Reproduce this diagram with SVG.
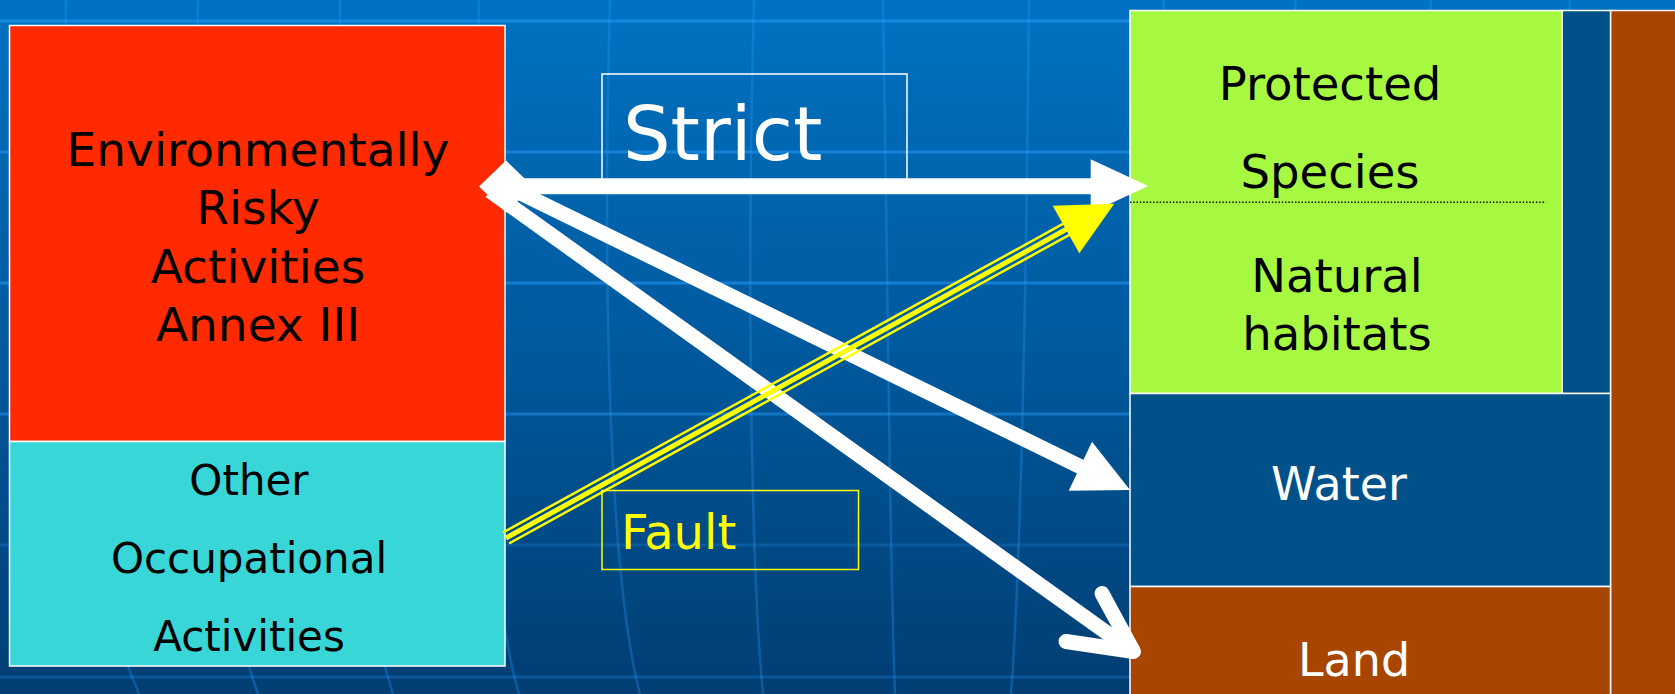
<svg xmlns="http://www.w3.org/2000/svg" width="1675" height="694" viewBox="0 0 1675 694">
  <defs>
    <linearGradient id="bg" x1="0" y1="0" x2="0" y2="1">
      <stop offset="0" stop-color="#0072c2"/>
      <stop offset="0.5" stop-color="#00599d"/>
      <stop offset="1" stop-color="#003e73"/>
    </linearGradient>
    <style>
      .box { stroke: #ffffff; stroke-width: 1.5; }
      .lbl { font-family: "DejaVu Sans", Verdana, sans-serif; text-anchor: middle; }
      .dark { fill: #000000; }
      .light { fill: #ffffff; }
      .hgrid { stroke: #2a9cff; stroke-width: 3; fill: none; }
      .vgrid { stroke: #2a9cff; stroke-width: 2.5; fill: none; opacity: 0.3; }
      .wire { stroke: #ffffff; fill: none; }
      .fault-line { stroke: #ffff00; fill: none; }
    </style>
  </defs>

  <!-- backdrop with globe-style grid -->
  <rect x="0" y="0" width="1675" height="694" fill="url(#bg)"/>
  <g id="grid">
    <line class="hgrid" x1="0" y1="21" x2="1675" y2="21" opacity="0.55" stroke-width="4"/>
    <line class="hgrid" x1="0" y1="152" x2="1675" y2="152" opacity="0.5"/>
    <line class="hgrid" x1="0" y1="283" x2="1675" y2="283" opacity="0.5"/>
    <line class="hgrid" x1="0" y1="414" x2="1675" y2="414" opacity="0.45"/>
    <line class="hgrid" x1="0" y1="545" x2="1675" y2="545" opacity="0.2"/>
    <line class="hgrid" x1="0" y1="677" x2="1675" y2="677" opacity="0.25"/>
    <path class="vgrid" d="M66,0 C60,300 80,560 139,694"/>
    <path class="vgrid" d="M198,0 C194,300 210,560 258,694"/>
    <path class="vgrid" d="M340,0 C336,300 350,560 393,694"/>
    <path class="vgrid" d="M479,0 C474,300 486,580 519,694"/>
    <path class="vgrid" d="M610,0 C602,300 610,580 640,694"/>
    <path class="vgrid" d="M754,0 C746,300 752,580 763,694"/>
    <path class="vgrid" d="M883,0 C888,300 890,580 895,694"/>
    <path class="vgrid" d="M1029,0 C1026,300 1020,580 1011,694"/>
    <path class="vgrid" d="M1164,0 L1160,40"/>
    <path class="vgrid" d="M1296,0 L1292,40"/>
    <path class="vgrid" d="M1431,0 L1427,40"/>
    <path class="vgrid" d="M1570,0 L1566,40"/>
  </g>

  <!-- source side -->
  <g id="risky-activities">
    <rect class="box" x="9.5" y="25.5" width="495.5" height="416" fill="#ff2a00"/>
    <text class="lbl dark" font-size="47" x="258" y="166">Environmentally</text>
    <text class="lbl dark" font-size="47" x="258" y="224">Risky</text>
    <text class="lbl dark" font-size="47" x="258" y="283">Activities</text>
    <text class="lbl dark" font-size="47" x="258" y="341">Annex III</text>
  </g>
  <g id="other-activities">
    <rect class="box" x="9.5" y="441.5" width="495.5" height="224.5" fill="#38d6d6"/>
    <text class="lbl dark" font-size="42" x="249" y="495">Other</text>
    <text class="lbl dark" font-size="42" x="249" y="573">Occupational</text>
    <text class="lbl dark" font-size="42" x="249" y="651">Activities</text>
  </g>

  <!-- damage side -->
  <g id="brown-column">
    <rect class="box" x="1610.5" y="10.5" width="70" height="690" fill="#a84500"/>
  </g>
  <g id="blue-strip">
    <rect class="box" x="1562" y="10.5" width="48.5" height="383" fill="#005089"/>
  </g>
  <g id="biodiversity">
    <rect class="box" x="1130" y="10.5" width="432" height="383" fill="#a6f840"/>
    <line x1="1130" y1="202.3" x2="1546" y2="202.3" stroke="#000000" stroke-width="1.4" stroke-dasharray="1.4 1.9"/>
    <text class="lbl dark" font-size="46.5" x="1330" y="100">Protected</text>
    <text class="lbl dark" font-size="46.5" x="1330" y="188">Species</text>
    <text class="lbl dark" font-size="46.5" x="1337" y="292">Natural</text>
    <text class="lbl dark" font-size="46.5" x="1337" y="350">habitats</text>
  </g>
  <g id="water">
    <rect class="box" x="1130" y="393.5" width="480.5" height="193" fill="#005089"/>
    <text class="lbl light" font-size="46" x="1339" y="500">Water</text>
  </g>
  <g id="land">
    <rect class="box" x="1130" y="586.5" width="480.5" height="120" fill="#a84500"/>
    <text class="lbl light" font-size="46" x="1354" y="676">Land</text>
  </g>

  <!-- liability regimes -->
  <g id="strict">
    <rect x="602" y="74" width="305" height="108" fill="none" stroke="#ffffff" stroke-width="1.5"/>
    <text font-family="'DejaVu Sans', Verdana, sans-serif" font-size="75" fill="#ffffff" x="623" y="160">Strict</text>
  </g>
  <g id="fault">
    <rect x="602" y="490.5" width="256.5" height="79" fill="none" stroke="#ffff00" stroke-width="1.5"/>
    <text font-family="'DejaVu Sans', Verdana, sans-serif" font-size="48" fill="#ffff00" x="621" y="549">Fault</text>
  </g>

  <g id="connectors">
    <!-- strict liability: Annex III activities to all damage types -->
    <line class="wire" x1="500" y1="186.3" x2="1094" y2="186.3" stroke-width="16"/>
    <polygon fill="#ffffff" points="1090.7,159.3 1148.3,186 1090.7,212.7"/>
    <line class="wire" x1="500" y1="183" x2="1082" y2="467.4" stroke-width="15"/>
    <polygon fill="#ffffff" points="1092,441.7 1130,490 1068.7,490.7"/>
    <line class="wire" x1="490" y1="191" x2="1128" y2="648" stroke-width="15"/>
    <polyline class="wire" points="1102,593.5 1133.5,651.5 1066,641.5" stroke-width="15" stroke-linecap="round" stroke-linejoin="round"/>
    <polygon fill="#ffffff" points="479,186.5 506,160.5 533,186.5 506,212.5"/>
    <!-- fault-based liability: other activities to biodiversity only -->
    <line class="fault-line" x1="503" y1="532.5" x2="1067" y2="221.7" stroke-width="2.5"/>
    <line class="fault-line" x1="506" y1="538" x2="1070" y2="227.3" stroke-width="5"/>
    <line class="fault-line" x1="509" y1="543.5" x2="1073" y2="232.8" stroke-width="2.5"/>
    <polygon fill="#ffff00" points="1052.7,205.7 1114.3,203.7 1079.3,253.3"/>
  </g>
</svg>
